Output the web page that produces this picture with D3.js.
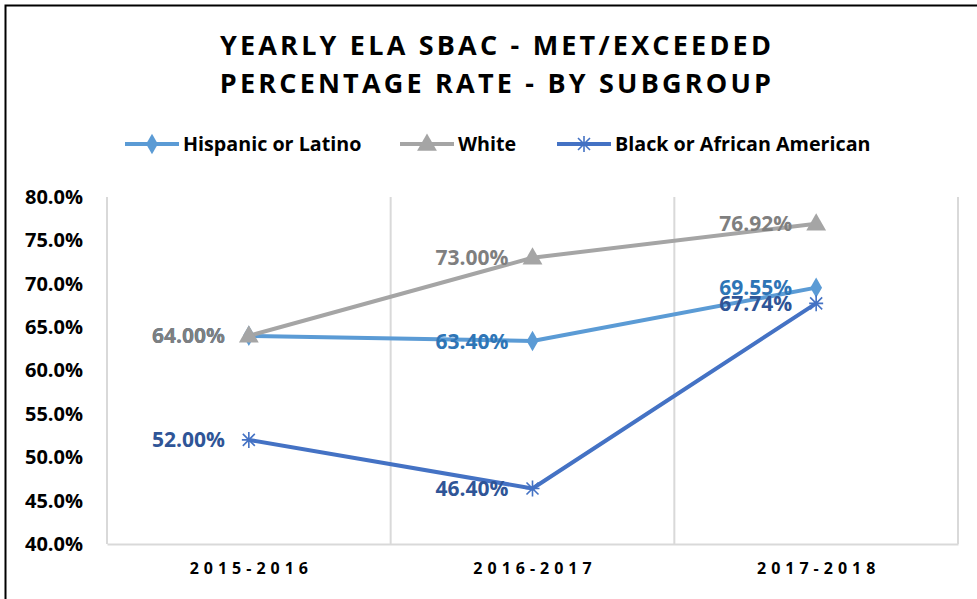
<!DOCTYPE html>
<html>
<head>
<meta charset="utf-8">
<script src="https://cdn.jsdelivr.net/npm/d3@7"></script>
<style>
  body { margin: 0; background: #fff; }
  svg { display: block; font-family: "Open Sans", sans-serif; }
</style>
</head>
<body>
<div id="chart"></div>
<script>
// chart data
var years = ["2015-2016", "2016-2017", "2017-2018"];
var hispanic = [64.00, 63.40, 69.55];
var white = [64.00, 73.00, 76.92];
var black = [52.00, 46.40, 67.74];
var yTicks = [40, 45, 50, 55, 60, 65, 70, 75, 80];
var titleLines = ["YEARLY ELA SBAC - MET/EXCEEDED", "PERCENTAGE RATE - BY SUBGROUP"];

var series = [
  {name: "Hispanic or Latino", values: hispanic, color: "#5b9bd5", label: "#2e75b6", marker: "diamond"},
  {name: "White", values: white, color: "#a5a5a5", label: "#7f7f7f", marker: "triangle"},
  {name: "Black or African American", values: black, color: "#4472c4", label: "#2f5597", marker: "star"}
];

var W = 977, H = 599;
var margin = {top: 197, right: 20, bottom: 55, left: 107};
var width = 958 - margin.left, height = 544 - margin.top;

var svg = d3.select("#chart").append("svg")
  .attr("width", W)
  .attr("height", H);

// outer border
svg.append("rect")
  .attr("x", 5.5).attr("y", 5.5)
  .attr("width", W + 20).attr("height", H + 20)
  .attr("fill", "none")
  .attr("stroke", "#000")
  .attr("stroke-width", 2);

// title
svg.append("g").selectAll("text")
  .data(titleLines)
  .enter().append("text")
  .attr("x", 497)
  .attr("y", function(d, i) { return 55 + i * 38; })
  .attr("text-anchor", "middle")
  .style("font-size", "27px")
  .style("font-weight", "bold")
  .style("letter-spacing", "3.2px")
  .attr("fill", "#000")
  .text(function(d) { return d; });

var g = svg.append("g")
  .attr("transform", "translate(" + margin.left + "," + margin.top + ")");

var x = d3.scaleBand().domain(years).range([0, width]);
var y = d3.scaleLinear().domain([40, 80]).range([height, 0]);

// vertical gridlines at category boundaries
var bounds = years.map(function(d) { return x(d); }).concat([width]);
g.selectAll(".vgrid")
  .data(bounds)
  .enter().append("line")
  .attr("x1", function(d) { return d; })
  .attr("x2", function(d) { return d; })
  .attr("y1", 0)
  .attr("y2", height)
  .attr("stroke", "#d9d9d9")
  .attr("stroke-width", 2);

// x axis
var xAxis = g.append("g")
  .attr("transform", "translate(0," + height + ")")
  .call(d3.axisBottom(x).tickSize(0).tickPadding(19));
xAxis.select(".domain").attr("stroke", "#d9d9d9").attr("stroke-width", 2);
xAxis.selectAll("text")
  .attr("dx", "2.5px")
  .style("font-size", "16px")
  .style("font-weight", "bold")
  .style("letter-spacing", "5px")
  .style("font-family", "'Open Sans', sans-serif")
  .attr("fill", "#000");

// y axis
var yAxis = g.append("g")
  .call(d3.axisLeft(y).tickValues(yTicks).tickSize(0).tickPadding(24)
    .tickFormat(function(d) { return d.toFixed(1) + "%"; }));
yAxis.select(".domain").remove();
yAxis.selectAll("text")
  .style("font-size", "20px")
  .style("font-weight", "bold")
  .style("font-family", "'Open Sans', sans-serif")
  .attr("fill", "#000");

var cx = function(i) { return x(years[i]) + x.bandwidth() / 2; };

var line = d3.line()
  .x(function(d, i) { return cx(i); })
  .y(function(d) { return y(d); });

function drawMarker(sel, type, color) {
  if (type === "diamond") {
    sel.append("path")
      .attr("d", d3.symbol().type(d3.symbolDiamond).size(120))
      .attr("fill", color);
  } else if (type === "triangle") {
    sel.append("path")
      .attr("d", d3.symbol().type(d3.symbolTriangle).size(170))
      .attr("transform", "translate(0,1)")
      .attr("fill", color);
  } else {
    sel.append("path")
      .attr("d", "M-7,0H7M0,-8V8M-6,-6L6,6M-6,6L6,-6")
      .attr("stroke", color)
      .attr("stroke-width", 1.6)
      .attr("fill", "none");
  }
}

// lines in drawing order
series.forEach(function(s) {
  g.append("path")
    .datum(s.values)
    .attr("d", line)
    .attr("fill", "none")
    .attr("stroke", s.color)
    .attr("stroke-width", 4)
    .attr("stroke-linejoin", "round");
});

series.forEach(function(s) {
  s.values.forEach(function(v, i) {
    var m = g.append("g").attr("transform", "translate(" + cx(i) + "," + y(v) + ")");
    drawMarker(m, s.marker, s.color);
  });
});

// data labels, left of points
series.forEach(function(s) {
  g.selectAll(null)
    .data(s.values)
    .enter().append("text")
    .attr("x", function(d, i) { return cx(i) - 24; })
    .attr("y", function(d) { return y(d); })
    .attr("dy", "0.36em")
    .attr("text-anchor", "end")
    .style("font-size", "21px")
    .style("font-weight", "bold")
    .attr("fill", s.label)
    .text(function(d) { return d.toFixed(2) + "%"; });
});

// legend
var legendX = [125, 400, 557];
var legend = svg.append("g");
series.forEach(function(s, i) {
  var lg = legend.append("g").attr("transform", "translate(" + legendX[i] + ",144)");
  lg.append("line")
    .attr("x1", 0).attr("x2", 54)
    .attr("stroke", s.color)
    .attr("stroke-width", 4);
  var m = lg.append("g").attr("transform", "translate(27,0)");
  drawMarker(m, s.marker, s.color);
  lg.append("text")
    .attr("x", 58)
    .attr("dy", "0.36em")
    .style("font-size", "19.7px")
    .style("font-weight", "bold")
    .attr("fill", "#000")
    .text(s.name);
});
</script>
</body>
</html>
